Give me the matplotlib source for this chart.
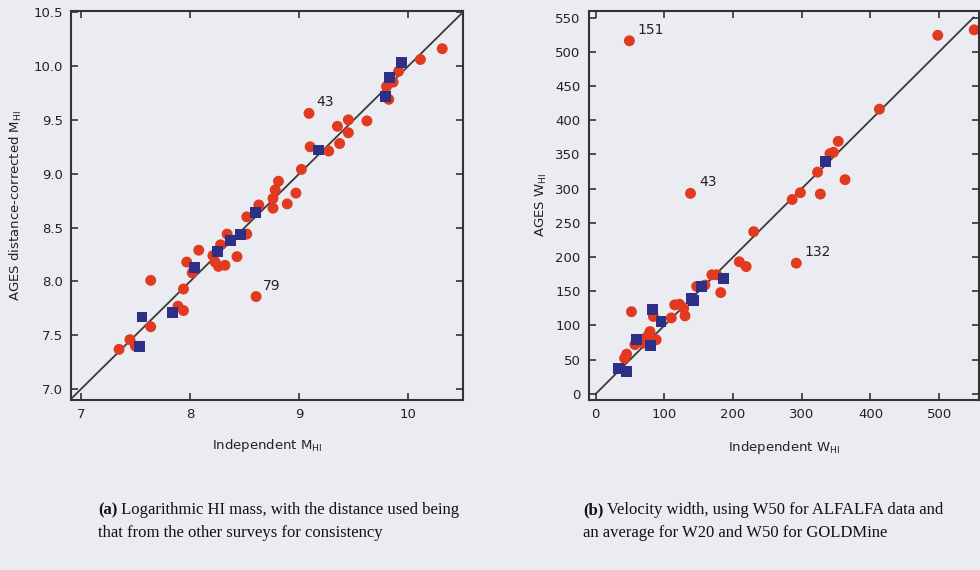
import matplotlib
matplotlib.use("Agg")
import matplotlib.pyplot as plt

# ---------------- data: panel (a) log HI mass ----------------
mass_red_x = [7.35, 7.45, 7.50, 7.64, 7.64, 7.89, 7.94, 7.94, 7.97, 8.02, 8.08,
              8.21, 8.23, 8.26, 8.32, 8.28, 8.34, 8.43, 8.52, 8.52, 8.63, 8.76,
              8.76, 8.78, 8.81, 8.89, 8.97, 9.02, 9.10, 9.09, 9.27, 9.37, 9.35,
              9.45, 9.45, 9.62, 9.82, 9.80, 9.86, 9.91, 10.11, 10.31, 8.605]
mass_red_y = [7.37, 7.46, 7.40, 7.58, 8.01, 7.77, 7.73, 7.93, 8.18, 8.08, 8.29,
              8.24, 8.18, 8.14, 8.15, 8.34, 8.44, 8.23, 8.44, 8.60, 8.71, 8.68,
              8.77, 8.85, 8.93, 8.72, 8.82, 9.04, 9.25, 9.56, 9.21, 9.28, 9.44,
              9.38, 9.50, 9.49, 9.69, 9.81, 9.85, 9.95, 10.06, 10.16, 7.86]
mass_blue_x = [7.54, 7.56, 7.84, 8.04, 8.25, 8.37, 8.46, 8.60, 9.18, 9.79, 9.83, 9.94]
mass_blue_y = [7.40, 7.67, 7.71, 8.13, 8.28, 8.38, 8.44, 8.64, 9.22, 9.72, 9.89, 10.03]
mass_labels = [("43", 9.09, 9.56), ("79", 8.605, 7.86)]

# ---------------- data: panel (b) velocity width ----------------
w_red_x = [42, 45, 52, 57, 69, 72, 77, 79, 84, 88, 110, 115, 122, 128, 130,
           147, 159, 169, 176, 182, 209, 219, 230, 286, 298, 327, 323, 341, 346,
           353, 363, 413, 498, 551, 49, 138, 292]
w_red_y = [52, 58, 120, 72, 74, 81, 86, 91, 113, 79, 111, 130, 131, 125, 114,
           157, 159, 174, 174, 148, 193, 186, 237, 284, 294, 292, 324, 351, 353,
           369, 313, 416, 524, 532, 516, 293, 191]
w_blue_x = [33, 45, 60, 80, 82, 95, 140, 143, 154, 186, 335]
w_blue_y = [37, 33, 79, 70, 123, 106, 140, 137, 157, 169, 339]
w_labels = [("151", 49, 516), ("43", 138, 293), ("132", 292, 191)]

mass_ticks = [7, 8, 9, 10]
mass_yticks = [7.0, 7.5, 8.0, 8.5, 9.0, 9.5, 10.0, 10.5]
w_ticks = [0, 100, 200, 300, 400, 500]
w_yticks = [0, 50, 100, 150, 200, 250, 300, 350, 400, 450, 500, 550]

captions = [
    ("(a)", " Logarithmic HI mass, with the distance used being",
     "that from the other surveys for consistency"),
    ("(b)", " Velocity width, using W50 for ALFALFA data and",
     "an average for W20 and W50 for GOLDMine"),
]

BG = "#ebecf1"
RED = "#e23a1f"
BLUE = "#2e2f86"
FRAME = "#333333"

fig = plt.figure(figsize=(9.8, 5.7), dpi=100, facecolor=BG)
W, H = 980.0, 570.0

def axes_px(l, t, r, b):
    return fig.add_axes([l / W, 1 - b / H, (r - l) / W, (b - t) / H])

ax1 = axes_px(71, 11, 463, 400)
ax2 = axes_px(589, 11, 979, 400)

for ax in (ax1, ax2):
    ax.set_facecolor(BG)
    for s in ax.spines.values():
        s.set_color(FRAME)
        s.set_linewidth(1.5)
    ax.tick_params(direction="in", top=True, right=True, length=5, width=1.2,
                   color=FRAME, labelsize=9.5, labelcolor="#222222", pad=6)

# panel a
ax1.set_xlim(6.91, 10.5)
ax1.set_ylim(6.9, 10.51)
ax1.plot([6.9, 10.51], [6.9, 10.51], color="#3a3a3a", lw=1.3, zorder=1)
ax1.scatter(mass_red_x, mass_red_y, s=62, color=RED, edgecolors="none", zorder=2)
ax1.scatter(mass_blue_x, mass_blue_y, s=62, marker="s", color=BLUE,
            edgecolors="none", zorder=3)
for t, x, y in mass_labels:
    ax1.annotate(t, (x, y), xytext=(5, 5), textcoords="offset points",
                 fontsize=10, color="#222222")
ax1.set_xticks(mass_ticks)
ax1.set_yticks(mass_yticks)
ax1.set_yticklabels([f"{v:.1f}" for v in mass_yticks])

# panel b
ax2.set_xlim(-9.8, 558)
ax2.set_ylim(-9, 559.5)
ax2.plot([0, 550], [0, 550], color="#3a3a3a", lw=1.3, zorder=1)
ax2.scatter(w_red_x, w_red_y, s=62, color=RED, edgecolors="none", zorder=2)
ax2.scatter(w_blue_x, w_blue_y, s=62, marker="s", color=BLUE,
            edgecolors="none", zorder=3)
for t, x, y in w_labels:
    ax2.annotate(t, (x, y), xytext=(6, 5), textcoords="offset points",
                 fontsize=10, color="#222222")
ax2.set_xticks(w_ticks)
ax2.set_yticks(w_yticks)

# axis labels
fig.text(267 / W, 1 - 445 / H, r"Independent M$_{\mathregular{HI}}$", ha="center",
         va="center", fontsize=9.5, color="#222222")
fig.text(16 / W, 1 - 205 / H, r"AGES distance-corrected M$_{\mathregular{HI}}$",
         ha="center", va="center", rotation=90, fontsize=9.5, color="#222222")
fig.text(784 / W, 1 - 447 / H, r"Independent W$_{\mathregular{HI}}$", ha="center",
         va="center", fontsize=9.5, color="#222222")
fig.text(541 / W, 1 - 205 / H, r"AGES W$_{\mathregular{HI}}$", ha="center",
         va="center", rotation=90, fontsize=9.5, color="#222222")

# captions
serif = ["Liberation Serif", "DejaVu Serif"]
for (tag, l1, l2), x0 in zip(captions, (98, 583)):
    t = fig.text(x0 / W, 1 - 510 / H, tag, ha="left", va="center", fontsize=12,
                 family=serif, weight="bold", color="#111111")
    fig.canvas.draw()
    bb = t.get_window_extent()
    fig.text(bb.x1 / W, 1 - 510 / H, l1, ha="left", va="center", fontsize=12,
             family=serif, color="#111111")
    fig.text(x0 / W, 1 - 533 / H, l2, ha="left", va="center", fontsize=12,
             family=serif, color="#111111")

fig.savefig("out.png", dpi=100, facecolor=BG)
